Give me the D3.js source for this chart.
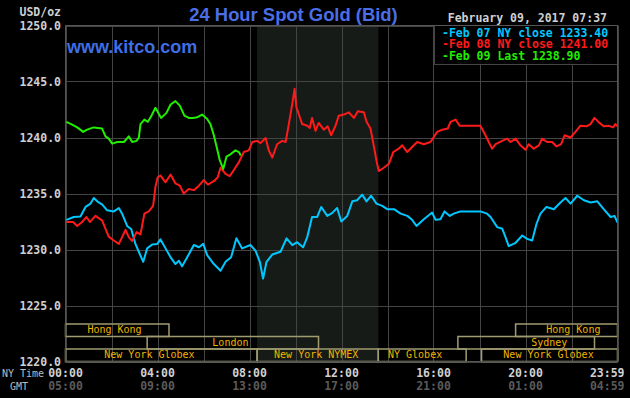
<!DOCTYPE html>
<html>
<head>
<meta charset="utf-8">
<script src="https://cdn.jsdelivr.net/npm/d3@7"></script>
<style>
	body { margin: 0; background: #000; }
	svg { display: block; }
	.mono { font-family: "DejaVu Sans Mono", monospace; }
</style>
</head>
<body>
<div class="chart"></div>
<script>
// hours since 00:00 NY time, price USD/oz
var feb07 = [
	[0.04,1232.65],[0.36,1232.9],[0.65,1232.95],[0.87,1233.8],[1.09,1234.1],[1.23,1234.6],[1.38,1234.3],
	[1.6,1234.0],[1.81,1233.5],[2.1,1233.4],[2.32,1233.7],[2.46,1233.2],[2.68,1232.1],[2.86,1231.8],
	[3.04,1230.5],[3.23,1229.6],[3.38,1228.9],[3.55,1230.1],[3.77,1230.45],[3.99,1230.5],[4.13,1230.9],
	[4.35,1230.1],[4.57,1229.3],[4.78,1228.7],[4.93,1229.0],[5.07,1228.5],[5.29,1229.3],[5.58,1230.4],
	[5.8,1230.2],[5.99,1230.5],[6.16,1229.5],[6.45,1228.7],[6.74,1228.1],[6.96,1228.9],[7.2,1229.3],
	[7.43,1231.0],[7.68,1230.1],[8.04,1230.4],[8.26,1229.9],[8.45,1228.9],[8.59,1227.4],[8.74,1228.9],
	[8.99,1229.55],[9.35,1229.8],[9.61,1231.0],[9.86,1230.4],[10.07,1230.65],[10.33,1230.2],[10.51,1231.1],
	[10.72,1232.9],[10.94,1232.9],[11.12,1233.8],[11.38,1233.0],[11.59,1233.25],[11.81,1233.7],[11.99,1232.5],
	[12.25,1233.0],[12.47,1234.3],[12.68,1234.4],[12.9,1234.9],[13.09,1234.3],[13.29,1234.8],[13.52,1234.1],
	[13.77,1233.9],[13.99,1233.6],[14.28,1233.6],[14.57,1233.2],[14.86,1233.0],[15.07,1232.65],[15.26,1232.1],
	[15.58,1232.7],[15.94,1233.3],[16.09,1232.65],[16.3,1232.7],[16.48,1233.4],[16.71,1233.0],[16.88,1233.2],
	[17.17,1233.4],[18.04,1233.4],[18.33,1233.2],[18.48,1232.9],[18.77,1232.0],[18.99,1231.85],[19.13,1231.1],
	[19.27,1230.3],[19.57,1230.6],[19.86,1231.25],[20.07,1230.95],[20.29,1230.8],[20.48,1232.3],[20.65,1233.2],
	[20.91,1233.8],[21.23,1233.6],[21.52,1234.2],[21.74,1234.6],[21.96,1234.1],[22.25,1234.8],[22.54,1234.4],
	[22.83,1234.2],[23.12,1234.3],[23.4,1233.6],[23.7,1232.9],[23.87,1233.0],[24.0,1232.4]
];

var feb08 = [
	[0.04,1232.45],[0.33,1232.45],[0.51,1232.1],[0.72,1232.45],[0.91,1232.9],[1.06,1232.45],[1.3,1233.0],
	[1.59,1232.6],[1.74,1231.85],[1.88,1231.15],[2.1,1230.8],[2.32,1230.5],[2.46,1231.1],[2.61,1231.75],
	[2.75,1231.1],[2.9,1230.75],[3.09,1231.55],[3.26,1231.35],[3.43,1233.2],[3.62,1233.4],[3.81,1233.9],
	[3.91,1235.6],[4.01,1236.45],[4.13,1236.6],[4.35,1236.0],[4.57,1236.7],[4.78,1235.9],[4.97,1235.7],
	[5.14,1235.0],[5.36,1235.4],[5.58,1235.3],[5.8,1235.7],[6.01,1236.2],[6.19,1235.8],[6.45,1236.1],
	[6.62,1236.45],[6.74,1237.3],[6.96,1236.75],[7.14,1236.55],[7.32,1237.1],[7.54,1237.8],[7.75,1238.7],
	[7.97,1238.85],[8.12,1239.6],[8.33,1239.7],[8.48,1239.5],[8.7,1239.95],[8.84,1238.85],[8.99,1238.2],
	[9.2,1239.4],[9.42,1239.7],[9.57,1239.6],[9.71,1241.2],[9.86,1243.0],[9.96,1244.35],[10.04,1242.7],
	[10.14,1242.1],[10.29,1241.2],[10.51,1241.05],[10.62,1240.85],[10.72,1241.75],[10.87,1240.6],[11.01,1241.3],
	[11.23,1240.7],[11.4,1241.0],[11.55,1240.2],[11.74,1241.05],[11.88,1241.95],[12.1,1242.05],[12.32,1242.25],
	[12.54,1241.75],[12.71,1242.35],[12.97,1242.25],[13.09,1241.4],[13.26,1240.8],[13.4,1239.3],[13.52,1237.95],
	[13.62,1237.0],[13.84,1237.3],[14.06,1237.65],[14.25,1238.7],[14.49,1239.0],[14.64,1239.3],[14.86,1238.7],
	[15.07,1239.15],[15.29,1239.6],[15.58,1239.4],[15.87,1239.6],[16.16,1240.5],[16.38,1240.7],[16.62,1240.8],
	[16.74,1241.4],[16.96,1241.6],[17.14,1241.05],[18.04,1241.05],[18.26,1240.2],[18.45,1239.4],[18.55,1239.0],
	[18.7,1239.4],[18.99,1239.7],[19.2,1239.9],[19.35,1239.6],[19.57,1239.9],[19.78,1239.3],[20.0,1238.9],
	[20.14,1239.4],[20.36,1239.0],[20.58,1239.3],[20.72,1239.9],[20.94,1239.6],[21.16,1239.6],[21.35,1239.2],
	[21.55,1239.4],[21.7,1240.2],[21.96,1240.0],[22.17,1240.5],[22.39,1241.05],[22.65,1241.0],[22.83,1241.2],
	[23.0,1241.75],[23.19,1241.35],[23.4,1241.0],[23.62,1241.05],[23.81,1240.9],[23.91,1241.2],[24.0,1241.0]
];

var feb09 = [
	[0.04,1241.4],[0.29,1241.15],[0.51,1240.9],[0.77,1240.5],[0.94,1240.7],[1.23,1240.9],[1.59,1240.8],
	[1.74,1240.1],[1.88,1239.9],[2.03,1239.45],[2.25,1239.6],[2.54,1239.6],[2.75,1240.1],[2.9,1239.6],
	[3.09,1239.7],[3.19,1240.0],[3.26,1241.2],[3.43,1241.6],[3.58,1241.4],[3.7,1241.8],[3.91,1242.65],
	[4.06,1242.1],[4.16,1241.75],[4.39,1242.2],[4.57,1242.95],[4.78,1243.25],[4.97,1242.85],[5.17,1241.95],
	[5.36,1241.75],[5.55,1241.75],[5.72,1241.8],[5.94,1242.05],[6.16,1241.65],[6.3,1241.2],[6.45,1240.2],
	[6.59,1239.0],[6.71,1237.95],[6.86,1237.2],[7.0,1238.3],[7.17,1238.5],[7.39,1238.85],[7.54,1238.7],
	[7.62,1238.4]
];

var seriesNames = ["Feb 07 NY close 1233.40", "Feb 08 NY close 1241.00", "Feb 09 Last 1238.90"];
var seriesColors = ["#00c8ff", "#ff1a1a", "#22ee00"];

var priceTicks = [1220, 1225, 1230, 1235, 1240, 1245, 1250];
var hourTicks = [0, 4, 8, 12, 16, 20, 24];
var nyLabels = ["00:00", "04:00", "08:00", "12:00", "16:00", "20:00", "23:59"];
var gmtLabels = ["05:00", "09:00", "13:00", "17:00", "21:00", "01:00", "04:59"];

// trading sessions: name, start hour, end hour, row (0 = top), label centre hour
var sessionNames = ["Hong Kong", "London", "New York Globex", "New York NYMEX", "NY Globex", "Sydney", "New York Globex", "Hong Kong"];
var sessionStart = [0, 3.55, 0, 8.33, 13.6, 17.06, 18.09, 19.57];
var sessionEnd   = [4.5, 11.0, 8.33, 13.6, 17.42, 23.0, 24, 24];
var sessionRow   = [0, 1, 2, 2, 2, 1, 2, 0];
var sessionLabelAt = [2.13, 7.17, 3.65, 10.9, 15.2, 21.03, 21.0, 22.08];

var nymexOpen = 8.33, nymexClose = 13.6;

var W = 630, H = 398;
var plotLeft = 65.5, plotRight = 617.5, plotTop = 25.5, plotBottom = 361.5;

var svg = d3.select(".chart").append("svg")
	.attr("width", W)
	.attr("height", H);

svg.append("rect").attr("width", W).attr("height", H).attr("fill", "#000");

var x = d3.scaleLinear().domain([0, 24]).range([plotLeft, plotRight]);
var y = d3.scaleLinear().domain([1220, 1250]).range([plotBottom, plotTop]);

// shaded NYMEX hours
svg.append("rect")
	.attr("x", x(nymexOpen))
	.attr("y", plotTop)
	.attr("width", x(nymexClose) - x(nymexOpen))
	.attr("height", plotBottom - plotTop)
	.attr("fill", "#171b17");

//grid
var grid = svg.append("g").attr("stroke", "#444").attr("stroke-width", 1);
grid.selectAll(".vg").data(d3.range(0, 25, 2)).enter().append("line")
	.attr("x1", function(d){ return Math.round(x(d)) + 0.5 })
	.attr("x2", function(d){ return Math.round(x(d)) + 0.5 })
	.attr("y1", plotTop).attr("y2", plotBottom);
grid.selectAll(".hg").data(priceTicks).enter().append("line")
	.attr("x1", plotLeft).attr("x2", plotRight)
	.attr("y1", function(d){ return Math.round(y(d)) + 0.5 })
	.attr("y2", function(d){ return Math.round(y(d)) + 0.5 });

// session boxes
var rowH = 12.5;
var sess = svg.append("g");
sessionNames.forEach(function(name, i) {
	var y0 = plotBottom - (3 - sessionRow[i]) * rowH;
	sess.append("rect")
		.attr("x", x(sessionStart[i]))
		.attr("y", y0)
		.attr("width", x(sessionEnd[i]) - x(sessionStart[i]))
		.attr("height", rowH)
		.attr("fill", "none")
		.attr("stroke", "#a09c70")
		.attr("stroke-width", 1.5);
	sess.append("text")
		.attr("class", "mono")
		.attr("x", x(sessionLabelAt[i]))
		.attr("y", y0 + rowH - 3.2)
		.attr("text-anchor", "middle")
		.attr("font-size", 10)
		.attr("fill", "#f0b400")
		.text(name);
});

// price lines
var line = d3.line()
	.x(function(d){ return x(d[0]) })
	.y(function(d){ return y(d[1]) });

[feb07, feb08, feb09].forEach(function(data, i) {
	svg.append("path")
		.attr("d", line(data))
		.attr("fill", "none")
		.attr("stroke", seriesColors[i])
		.attr("stroke-width", 2)
		.attr("stroke-linejoin", "round");
});

// price axis labels
svg.selectAll(".ptick").data(priceTicks).enter().append("text")
	.attr("class", "mono")
	.attr("x", 61)
	.attr("y", function(d){ return y(d) + 4 })
	.attr("text-anchor", "end")
	.attr("font-size", 11.5)
	.attr("font-weight", "bold")
	.attr("fill", "#cfcfcf")
	.text(function(d){ return d.toFixed(1) });

svg.append("text").attr("class", "mono")
	.attr("x", 61).attr("y", 16)
	.attr("text-anchor", "end")
	.attr("font-size", 11.5).attr("font-weight", "bold")
	.attr("fill", "#cfcfcf")
	.text("USD/oz");

// time axis labels
hourTicks.forEach(function(h, i) {
	var last = i == hourTicks.length - 1;
	var tx = last ? x(h) + 7 : x(h);
	var anchor = last ? "end" : "middle";
	svg.append("text").attr("class", "mono")
		.attr("x", tx).attr("y", 377)
		.attr("text-anchor", anchor)
		.attr("font-size", 11.5).attr("font-weight", "bold")
		.attr("fill", "#d0d0d0")
		.text(nyLabels[i]);
	svg.append("text").attr("class", "mono")
		.attr("x", tx).attr("y", 390)
		.attr("text-anchor", anchor)
		.attr("font-size", 11.5).attr("font-weight", "bold")
		.attr("fill", "#5a5a5a")
		.text(gmtLabels[i]);
});

svg.append("text").attr("class", "mono")
	.attr("x", 2).attr("y", 377)
	.attr("font-size", 10)
	.attr("fill", "#bbbbbb")
	.text("NY Time");
svg.append("text").attr("class", "mono")
	.attr("x", 10).attr("y", 390)
	.attr("font-size", 10)
	.attr("fill", "#bbbbbb")
	.text("GMT");

// titles
svg.append("text")
	.attr("x", 293.5).attr("y", 21)
	.attr("text-anchor", "middle")
	.attr("font-family", "'Liberation Sans', Arial, sans-serif")
	.attr("font-size", 18.4)
	.attr("font-weight", "bold")
	.attr("fill", "#4a6ee8")
	.text("24 Hour Spot Gold (Bid)");

svg.append("text")
	.attr("x", 67).attr("y", 53)
	.attr("font-family", "'Liberation Sans', Arial, sans-serif")
	.attr("font-size", 18)
	.attr("font-weight", "bold")
	.attr("fill", "#3f6ee6")
	.text("www.kitco.com");

svg.append("text").attr("class", "mono")
	.attr("x", 607).attr("y", 21.5)
	.attr("text-anchor", "end")
	.attr("font-size", 11.5).attr("font-weight", "bold")
	.attr("fill", "#cfcfcf")
	.text("February 09, 2017 07:37");

// legend
var lg = svg.append("g");
lg.append("rect")
	.attr("x", 434.5).attr("y", plotTop)
	.attr("width", plotRight - 434.5).attr("height", 39)
	.attr("fill", "#000")
	.attr("stroke", "#444");
seriesNames.forEach(function(name, i) {
	lg.append("text").attr("class", "mono")
		.attr("x", 442).attr("y", 36.5 + i * 11.8)
		.attr("font-size", 11.5).attr("font-weight", "bold")
		.attr("fill", seriesColors[i])
		.text("-" + name);
});

// plot frame on top
svg.append("rect")
	.attr("x", plotLeft).attr("y", plotTop)
	.attr("width", plotRight - plotLeft).attr("height", plotBottom - plotTop)
	.attr("fill", "none")
	.attr("stroke", "#555");
</script>
</body>
</html>
